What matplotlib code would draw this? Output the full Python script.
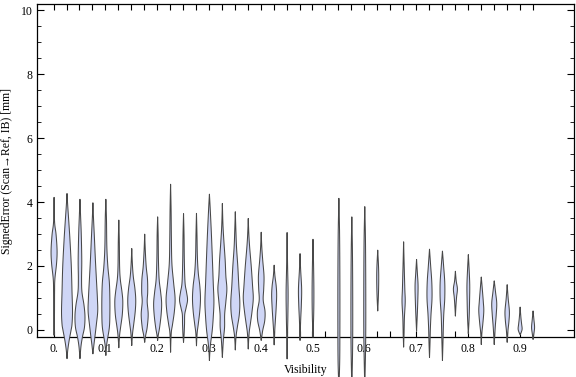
import numpy as np
import matplotlib.pyplot as plt

plt.rcParams['font.family'] = ['Liberation Serif', 'DejaVu Serif']

# category positions that carry a violin (0.525 and 0.65 are empty)
visibility = [0.0, 0.025, 0.05, 0.075, 0.1, 0.125, 0.15, 0.175, 0.2, 0.225,
              0.25, 0.275, 0.3, 0.325, 0.35, 0.375, 0.4, 0.425, 0.45, 0.475,
              0.5, 0.55, 0.575, 0.6, 0.625, 0.675, 0.7, 0.725, 0.75, 0.775,
              0.8, 0.825, 0.85, 0.875, 0.9, 0.925]

# violin outline knots: error levels [mm] (top -> bottom)
err_levels = [
    [4.16, 3.4, 3.0, 2.5, 2.1, 1.6, 1.2, 0.5, -0.15],
    [4.28, 3.9, 3.3, 2.8, 2.0, 1.2, 0.6, 0.2, 0.0, -0.3, -0.6, -0.88],
    [4.1, 3.6, 3.0, 2.2, 1.6, 1.2, 0.8, 0.45, 0.1, -0.2, -0.5, -0.88],
    [3.99, 3.5, 2.9, 2.2, 1.6, 1.0, 0.6, 0.2, -0.2, -0.45, -0.73],
    [4.1, 3.5, 2.6, 2.0, 1.5, 1.0, 0.5, 0.1, -0.3, -0.5, -0.78],
    [3.45, 2.8, 2.0, 1.6, 1.2, 0.9, 0.5, 0.1, -0.15, -0.54],
    [2.56, 2.1, 1.7, 1.3, 0.95, 0.6, 0.2, -0.1, -0.47],
    [3.01, 2.5, 2.0, 1.6, 1.2, 0.9, 0.5, 0.1, -0.15, -0.37],
    [3.55, 3.0, 2.2, 1.6, 1.2, 0.85, 0.5, 0.1, -0.15, -0.31],
    [4.57, 3.8, 2.9, 2.1, 1.5, 1.0, 0.6, 0.2, -0.1, -0.68],
    [3.65, 3.0, 2.2, 1.5, 1.2, 0.95, 0.7, 0.5, 0.2, -0.1, -0.37],
    [3.66, 3.0, 2.3, 1.8, 1.4, 1.0, 0.6, 0.2, -0.1, -0.48],
    [4.26, 3.8, 3.0, 2.2, 1.5, 0.9, 0.4, 0.0, -0.4, -0.7, -0.94],
    [3.97, 3.3, 2.8, 2.2, 1.7, 1.3, 0.9, 0.5, 0.1, -0.3, -0.84],
    [3.71, 3.1, 2.6, 2.0, 1.4, 0.9, 0.5, 0.1, -0.2, -0.61],
    [3.5, 3.0, 2.6, 2.0, 1.4, 1.0, 0.6, 0.25, -0.1, -0.58],
    [3.07, 2.6, 2.2, 1.7, 1.3, 0.95, 0.6, 0.3, 0.0, -0.31],
    [2.04, 1.7, 1.4, 1.1, 0.7, 0.3, 0.0, -0.45],
    [3.06, 2.0, 1.2, 0.5, 0.0, -0.89],
    [2.4, 1.9, 1.3, 0.8, 0.3, -0.31],
    [2.85, 2.0, 1.2, 0.5, -0.21],
    [4.13, 3.0, 1.5, 0.0, -1.0, -1.8],
    [3.55, 2.5, 1.0, -0.5, -1.8],
    [3.87, 2.8, 1.2, -0.3, -1.8],
    [2.51, 2.0, 1.6, 1.1, 0.61],
    [2.77, 2.0, 1.3, 0.9, 0.4, 0.0, -0.52],
    [2.22, 1.8, 1.4, 0.9, 0.4, -0.02],
    [2.54, 2.0, 1.5, 1.0, 0.5, 0.0, -0.4, -0.84],
    [2.48, 2.0, 1.5, 1.0, 0.5, 0.0, -0.4, -0.94],
    [1.85, 1.55, 1.3, 1.05, 0.8, 0.45],
    [2.37, 1.9, 1.4, 0.9, 0.4, -0.1],
    [1.67, 1.3, 0.9, 0.6, 0.2, -0.1, -0.44],
    [1.55, 1.2, 0.85, 0.5, 0.1, -0.44],
    [1.43, 1.0, 0.6, 0.3, 0.0, -0.37],
    [0.73, 0.4, 0.2, 0.05, -0.05, -0.13],
    [0.61, 0.35, 0.1, -0.1, -0.28],
]
# half widths at those knots (pixels of the original picture)
err_width = [
    [0, 0.5, 2, 3, 2.5, 0.8, 0.5, 0.4, 0],
    [0, 0.7, 2, 3, 4.3, 5, 5.5, 5, 4, 2.2, 0.8, 0],
    [0, 0.6, 1.3, 1.8, 1.6, 2, 4, 5, 4.5, 2.5, 1, 0],
    [0, 0.6, 1.5, 2.5, 3.5, 4.5, 4.8, 3.5, 2, 1, 0],
    [0, 0.6, 1, 2, 3.5, 4, 4, 3.5, 1.5, 0.6, 0],
    [0, 0.5, 0.8, 1.5, 3.2, 4, 3.5, 1.8, 0.8, 0],
    [0, 0.6, 1.5, 3.2, 4, 3.5, 2, 0.8, 0],
    [0, 0.6, 1.5, 2.8, 3, 2.5, 3.5, 2.5, 1, 0],
    [0, 0.5, 0.8, 1.5, 3, 4, 3.5, 2, 0.6, 0],
    [0, 0.5, 0.8, 1.3, 3, 4.5, 3.8, 2, 0.6, 0],
    [0, 0.5, 0.8, 1.5, 3, 4, 2.5, 1.2, 1, 0.6, 0],
    [0, 0.5, 0.9, 1.8, 3.3, 4, 3.3, 1.8, 0.6, 0],
    [0, 0.8, 2, 3, 3.8, 4.5, 3.8, 2.8, 1.2, 0.4, 0],
    [0, 0.6, 1.5, 2.8, 3.5, 4.5, 3.5, 2.3, 2.2, 1, 0],
    [0, 0.6, 1.2, 2.5, 3.5, 4.5, 4, 2, 0.7, 0],
    [0, 0.6, 1.4, 3, 4.3, 5, 3.8, 2.3, 0.8, 0],
    [0, 0.6, 1.5, 2.8, 2.5, 2, 3.8, 3.5, 1.5, 0],
    [0, 0.8, 2, 2.5, 2, 1.2, 0.6, 0],
    [0, 0.5, 1, 0.8, 0.5, 0],
    [0, 0.6, 1.6, 1.3, 0.6, 0],
    [0, 0.6, 0.9, 0.7, 0],
    [0, 0.7, 1, 1, 0.8, 0],
    [0, 0.6, 0.9, 0.8, 0],
    [0, 0.7, 1, 0.9, 0],
    [0, 0.8, 1, 0.7, 0],
    [0, 0.6, 1.2, 1.6, 0.8, 0.5, 0],
    [0, 0.8, 1.5, 1.2, 0.6, 0],
    [0, 1.2, 2.3, 2.5, 1.5, 0.8, 0.5, 0],
    [0, 1.2, 2.3, 2.3, 1.3, 0.8, 0.5, 0],
    [0, 0.8, 2, 1.2, 0.6, 0],
    [0, 0.8, 1.4, 1.2, 0.8, 0],
    [0, 1, 2, 2.5, 1.5, 0.5, 0],
    [0, 1.3, 2.5, 2, 1, 0],
    [0, 1, 2.2, 1.8, 0.8, 0],
    [0, 0.8, 1.5, 2, 1.2, 0],
    [0, 0.8, 1.5, 0.8, 0],
]

tick_pos = np.round(np.arange(0, 0.93, 0.025), 3)
tick_text = ['0.' if t == 0 else (f'{t:.1f}' if k % 4 == 0 else '')
             for k, t in enumerate(tick_pos)]

px_per_x = 518.0  # original picture: pixels per unit of visibility


def smooth_outline(ys, ws, n=12):
    # Catmull-Rom through the knots, only used to draw a smooth outline
    p = np.column_stack([ys, ws]).astype(float)
    p = np.vstack([p[0], p, p[-1]])
    out = []
    t = np.linspace(0, 1, n, endpoint=False)[:, None]
    for i in range(1, len(p) - 2):
        p0, p1, p2, p3 = p[i - 1], p[i], p[i + 1], p[i + 2]
        seg = 0.5 * ((2 * p1) + (-p0 + p2) * t + (2 * p0 - 5 * p1 + 4 * p2 - p3) * t ** 2
                     + (-p0 + 3 * p1 - 3 * p2 + p3) * t ** 3)
        out.append(seg)
    out.append(p[-2][None, :])
    out = np.vstack(out)
    return out[:, 0], np.clip(out[:, 1], 0, None)


fig = plt.figure(figsize=(5.76, 3.77), dpi=100)
ax = fig.add_axes([37 / 576, 40 / 377, 537 / 576, 333 / 377])

for x, ys, ws in zip(visibility, err_levels, err_width):
    yy, hw = smooth_outline(ys, ws)
    hw = hw / px_per_x
    ax.fill_betweenx(yy, x - hw, x + hw, facecolor='#cfd6f6', edgecolor='#484848',
                     linewidth=0.75, clip_on=False, zorder=3)

ax.set_xlim(-0.032, 1.005)
ax.set_ylim(-0.22, 10.19)

ax.set_xticks(tick_pos)
ax.set_xticklabels(tick_text)
ax.set_yticks([0, 2, 4, 6, 8, 10])
ax.set_yticks(np.arange(0, 10.01, 0.5), minor=True)

ax.tick_params(axis='x', which='both', direction='in', top=True, length=4, width=0.8,
               labelsize=8.5, pad=4.5)
ax.tick_params(axis='y', which='major', direction='in', right=True, length=5, width=0.8,
               labelsize=8.5, pad=3)
ax.tick_params(axis='y', which='minor', direction='in', right=True, length=3, width=0.6)
for s in ax.spines.values():
    s.set_linewidth(0.9)

ax.set_xlabel('Visibility', fontsize=8.5)
ax.xaxis.set_label_coords(0.5, -0.08)
ax.set_ylabel('SignedError (Scan\u2192Ref, IB) [mm]', fontsize=8.5)
ax.yaxis.set_label_coords(-0.045, 0.5)

fig.savefig('out.png', dpi=100)
